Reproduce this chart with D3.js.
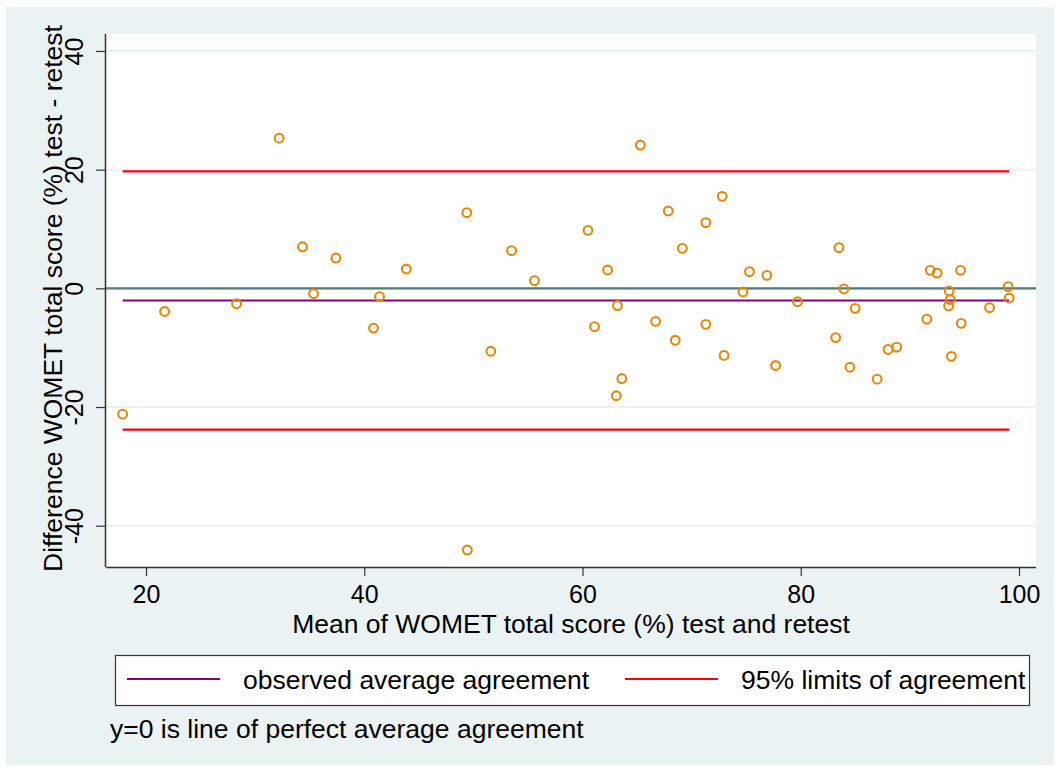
<!DOCTYPE html>
<html><head><meta charset="utf-8">
<script src="https://cdn.jsdelivr.net/npm/d3@7"></script>
<style>body{margin:0;background:#fff}text{font-family:"Liberation Sans",Arial,sans-serif;fill:#000}</style>
</head><body>
<script>
const meanVals=[17.86,21.7,28.3,32.2,34.34,35.35,37.4,40.85,41.4,43.85,49.4,49.45,51.6,53.5,55.6,60.5,61.1,62.3,63.1,63.2,63.6,65.3,66.7,67.86,68.5,69.15,71.3,71.3,72.8,72.97,74.7,75.3,76.9,77.7,79.7,83.2,83.5,83.95,84.5,84.98,87.0,88.0,88.8,91.56,91.87,92.5,93.55,93.6,93.7,93.8,94.65,94.7,97.3,99.0,99.1];
const diffVals=[-21.2,-3.9,-2.6,25.3,7.0,-0.9,5.1,-6.7,-1.4,3.26,12.75,-44.1,-10.6,6.35,1.3,9.77,-6.46,3.09,-18.1,-2.9,-15.2,24.15,-5.56,13.03,-8.76,6.74,11.06,-6.07,15.5,-11.3,-0.62,2.8,2.19,-13.0,-2.25,-8.3,6.85,-0.1,-13.3,-3.37,-15.3,-10.3,-9.9,-5.2,3.03,2.58,-2.98,-0.45,-1.9,-11.46,3.03,-5.9,-3.26,0.28,-1.63];
const xTicks=[20,40,60,80,100];
const yTicks=[-40,-20,0,20,40];
const meanDiff=-2.05;
const limits=[19.7,-23.8];
const xTitle="Mean of WOMET total score (%) test and retest";
const yTitle="Difference WOMET total score (%) test - retest";
const legendLabels=["observed average agreement","95% limits of agreement"];
const note="y=0 is line of perfect average agreement";

const W=1060,H=771;
const L=106,R=1036,T=34,B=567;
const svg=d3.select("body").append("svg").attr("width",W).attr("height",H);
svg.append("rect").attr("x",6).attr("y",7).attr("width",1048).attr("height",758).attr("fill","#EAF2F3");
svg.append("rect").attr("x",L).attr("y",T).attr("width",R-L).attr("height",B-T).attr("fill","#fff");

const x=d3.scaleLinear().domain([16.334,101.557]).range([L,R]);
const y=d3.scaleLinear().domain([-46.96,42.86]).range([B,T]);
const fmt=d=>String(d);

// gridlines
svg.selectAll(".grid").data(yTicks).enter().append("line")
 .attr("x1",L).attr("x2",R).attr("y1",d=>y(d)).attr("y2",d=>y(d))
 .attr("stroke","#EAF2F3").attr("stroke-width",2);

const xmin=d3.min(meanVals),xmax=d3.max(meanVals);
// zero line
svg.append("line").attr("x1",L).attr("x2",R).attr("y1",y(0)).attr("y2",y(0))
 .attr("stroke","#4F7C73").attr("stroke-width",2.2);
// limits
svg.selectAll(".lim").data(limits).enter().append("line")
 .attr("x1",x(xmin)).attr("x2",x(xmax)).attr("y1",d=>y(d)).attr("y2",d=>y(d))
 .attr("stroke","#FF0000").attr("stroke-width",2.2);
svg.append("line").attr("x1",x(xmin)).attr("x2",x(xmax)).attr("y1",y(meanDiff)).attr("y2",y(meanDiff))
 .attr("stroke","#800080").attr("stroke-width",2.2);

// points
svg.selectAll(".pt").data(meanVals).enter().append("circle")
 .attr("cx",d=>x(d)).attr("cy",(d,i)=>y(diffVals[i])).attr("r",4.4)
 .attr("fill","none").attr("stroke","#E8860C").attr("stroke-width",2.1);

// axes
const xa=svg.append("g").attr("transform",`translate(0,${B})`)
 .call(d3.axisBottom(x).tickValues(xTicks).tickSize(9).tickPadding(6).tickSizeOuter(0).tickFormat(fmt));
xa.select(".domain").attr("stroke","#333").attr("stroke-width",1.5).attr("d",`M${L},0.5H${R}`);
xa.selectAll(".tick line").attr("stroke","#333").attr("stroke-width",1.2);
xa.selectAll(".tick text").attr("font-size",25).attr("font-family","Liberation Sans, Arial, sans-serif").attr("fill","#000").attr("dy","0.85em");

const ya=svg.append("g").attr("transform",`translate(${L},0)`)
 .call(d3.axisLeft(y).tickValues(yTicks).tickSize(10).tickFormat(fmt).tickSizeOuter(0));
ya.select(".domain").attr("stroke","#333").attr("stroke-width",1.5).attr("d",`M-0.5,${T}V${B}`);
ya.selectAll(".tick line").attr("stroke","#333").attr("stroke-width",1.2);
ya.selectAll(".tick text").remove();
ya.selectAll(".tick").append("text")
 .attr("transform","translate(-23,0) rotate(-90)").attr("text-anchor","middle")
 .attr("font-size",25).attr("font-family","Liberation Sans, Arial, sans-serif").attr("fill","#000")
 .text(fmt);

// titles
svg.append("text").attr("x",(L+R)/2).attr("y",633).attr("text-anchor","middle").attr("font-size",26.5).text(xTitle);
svg.append("text").attr("transform",`translate(62,${(T+B)/2 - 2}) rotate(-90)`).attr("text-anchor","middle").attr("font-size",26.5).text(yTitle);

// legend
svg.append("rect").attr("x",115.5).attr("y",655.5).attr("width",914).attr("height",50).attr("fill","#fff").attr("stroke","#333").attr("stroke-width",1.2);
const legColors=["#800080","#FF0000"];
const legX=[127,625];
legendLabels.forEach((lab,i)=>{
 svg.append("line").attr("x1",legX[i]).attr("x2",legX[i]+93).attr("y1",679).attr("y2",679).attr("stroke",legColors[i]).attr("stroke-width",2.2);
 svg.append("text").attr("x",legX[i]+116).attr("y",689).attr("font-size",26.5).text(lab);
});
svg.append("text").attr("x",110).attr("y",738).attr("font-size",26.5).text(note);
</script>
</body></html>
